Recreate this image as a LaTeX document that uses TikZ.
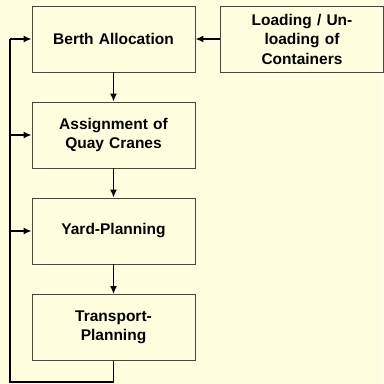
\documentclass[tikz,border=0pt]{standalone}
\usepackage{fontspec}
\setmainfont{Liberation Sans}
\usetikzlibrary{arrows.meta,positioning}
\definecolor{paper}{RGB}{255,255,224}
\definecolor{frame}{RGB}{70,70,70}

\begin{document}
\begin{tikzpicture}[x=1pt,y=1pt]
\tikzstyle{block}=[draw=frame,fill=paper,line width=0.8pt,minimum width=163pt,minimum height=66pt,
  text width=150pt,align=center,inner sep=0pt,font=\bfseries\fontsize{15.5}{19.5}\selectfont]
\tikzstyle{flow}=[line width=1.8pt,-{Latex[length=8pt,width=7pt]}]
\tikzstyle{wire}=[line width=1.8pt]

% page
\fill[paper] (0,0) rectangle (383,384);

% planning steps
\node[block] (berth) at (113.5,345) {Berth Allocation};
\node[block] (loading) at (302,345) {Loading / Un-\\loading of\\Containers};
\node[block] (cranes) at (113.5,249) {Assignment of\\Quay Cranes};
\node[block] (yard) at (113.5,153) {Yard-Planning};
\node[block] (transport) at (113.5,56.5) {Transport-\\Planning};

\draw[flow] (loading) -- (berth);
\draw[flow] (berth) -- (cranes);
\draw[flow] (cranes) -- (yard);
\draw[flow] (yard) -- (transport);

% feedback loop
\coordinate (down) at (113.5,2);
\coordinate (loop) at (10,2);
\draw[wire,line join=miter] (transport.south) -- (down) -- (loop) -- (loop |- berth.west);
\draw[flow] (loop |- berth.west) -- (berth.west);
\draw[flow] (loop |- cranes.west) -- (cranes.west);
\draw[flow] (loop |- yard.west) -- (yard.west);

\end{tikzpicture}
\end{document}
